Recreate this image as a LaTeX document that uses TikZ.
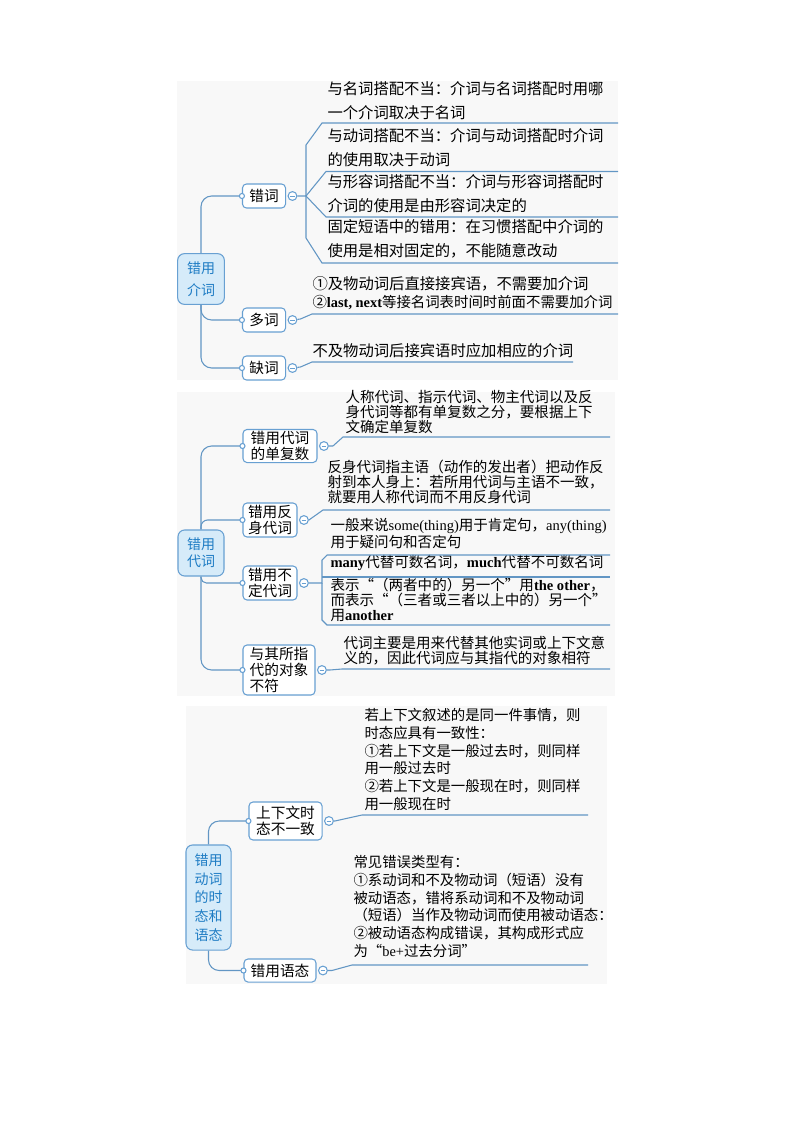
\documentclass[tikz,border=0pt]{standalone}
\usepackage{fontspec}
\setmainfont{Noto Sans CJK SC}
\newfontfamily\westfont{Liberation Serif}
\usetikzlibrary{positioning}
\definecolor{LineBlue}{RGB}{98,150,196}
\definecolor{NodeBlue}{RGB}{104,160,210}
\definecolor{RootFill}{RGB}{214,235,249}
\definecolor{RootText}{RGB}{30,124,196}
\definecolor{PanelGray}{RGB}{248,248,248}
\newcommand{\LeafBig}{\fontsize{11.5}{18}\selectfont}
\newcommand{\LeafTwo}{\fontsize{11.5}{13.5}\selectfont}
\newcommand{\LeafSmall}{\fontsize{10.9}{11.2}\selectfont}
\newcommand{\LeafMid}{\fontsize{10.8}{13.3}\selectfont}
\newcommand{\SubFont}{\fontsize{11}{12}\selectfont}
\newcommand{\wt}[1]{{\westfont\bfseries #1}}
\newcommand{\fw}[1]{{\addfontfeature{CharacterWidth=Full}#1}}

\begin{document}
\begin{tikzpicture}[
      x=0.75pt, y=-0.75pt,
      line width=0.8pt,
      panel/.style={fill=PanelGray},
      root/.style={
        draw = NodeBlue,
        fill = RootFill,
        text = RootText,
        rounded corners = 5pt,
        inner sep = 0pt,
        align = center,
      },
      sub/.style={
        draw = NodeBlue,
        fill = white,
        rounded corners = 3pt,
        inner sep = 0pt,
        align = left,
        font = \SubFont,
      },
      leaf/.style={anchor=south west, inner sep=0pt, align=left},
      tog/.style={
        circle, draw=NodeBlue, fill=white, inner sep=0pt, minimum size=6.6pt,
        path picture={\draw[NodeBlue, line width=0.6pt]
          ([xshift=-1.7pt]path picture bounding box.center) --
          ([xshift=1.7pt]path picture bounding box.center);},
      },
      dot/.style={circle, draw=NodeBlue, fill=white, inner sep=0pt, minimum size=3.8pt},
      link/.style={draw=LineBlue},
      trunk/.style={draw=LineBlue, rounded corners=8pt},
    ]
    \useasboundingbox (0,0) rectangle (794,1123);
    \fill[panel] (177,81) rectangle (618,380);
    \fill[panel] (177,392) rectangle (615,696);
    \fill[panel] (186,706) rectangle (607,984);

    % 错用介词
    \node[root, font=\fontsize{10.5}{16.5}\selectfont, minimum width=35pt, minimum height=38pt] (r1) at (201,279) {错用\\介词};
    \node[sub, minimum width=32.3pt, minimum height=18pt] (b11) at (264,196) {错词};
    \node[sub, minimum width=32.3pt, minimum height=18pt] (b12) at (264,320) {多词};
    \node[sub, minimum width=32.3pt, minimum height=18pt] (b13) at (264,368) {缺词};
    \draw[trunk] (r1.north) |- (b11.west);
    \draw[trunk] (r1.south) |- (b12.west);
    \draw[trunk] (r1.south) |- (b13.west);
    \node[dot] (d11) at (b11.west) {};
    \node[dot] (d12) at (b12.west) {};
    \node[dot] (d13) at (b13.west) {};
    \node[tog, right=1.1pt of b11] (t11) {};
    \node[tog, right=1.1pt of b12] (t12) {};
    \node[tog, right=1.1pt of b13] (t13) {};

    \node[leaf, font=\LeafBig] (l11) at (327,120) {与名词搭配不当：介词与名词搭配时用哪\\一个介词取决于名词};
    \node[leaf, font=\LeafBig] (l12) at (327,167) {与动词搭配不当：介词与动词搭配时介词\\的使用取决于动词};
    \node[leaf, font=\LeafBig] (l13) at (327,213) {与形容词搭配不当：介词与形容词搭配时\\介词的使用是由形容词决定的};
    \node[leaf, font=\LeafBig] (l14) at (327,259) {固定短语中的错用：在习惯搭配中介词的\\使用是相对固定的，不能随意改动};
    \node[leaf, font=\LeafTwo] (l15) at (312,310) {①及物动词后直接接宾语，不需要加介词\\{\fontsize{10.8}{13.5}\selectfont ②\wt{last, next}等接名词表时间时前面不需要加介词}};
    \node[leaf, font=\LeafBig] (l16) at (312,358.5) {不及物动词后接宾语时应加相应的介词};

    \coordinate (j11) at (306,196);
    \coordinate (u11) at (322,123);   \coordinate (e11) at (618,123);
    \coordinate (u12) at (326,171.5); \coordinate (e12) at (618,171.5);
    \coordinate (u13) at (326,217);   \coordinate (e13) at (618,217);
    \coordinate (u14) at (322,263);   \coordinate (e14) at (618,263);
    \draw[link] (t11) -- (j11) -- ++(0,-51) -- (u11) -- (e11);
    \draw[link] (j11) -- (u12) -- (e12);
    \draw[link] (j11) -- (u13) -- (e13);
    \draw[link] (j11) -- ++(0,42) -- (u14) -- (e14);
    \coordinate (u15) at (312,314); \coordinate (e15) at (618,314);
    \draw[link] (t12) -- ++(8,-1) -- (u15) -- (e15);
    \coordinate (u16) at (312,362); \coordinate (e16) at (573,362);
    \draw[link] (t13) -- ++(8,-1) -- (u16) -- (e16);

    % 错用代词
    \node[root, font=\fontsize{10.5}{12.5}\selectfont, minimum width=34.5pt, minimum height=34.5pt] (r2) at (201,553) {错用\\代词};
    \node[sub, minimum width=55.5pt, minimum height=24.8pt] (b21) at (280,446) {错用代词\\的单复数};
    \node[sub, minimum width=40.5pt, minimum height=25.5pt] (b22) at (270,520) {错用反\\身代词};
    \node[sub, minimum width=40.5pt, minimum height=25.5pt] (b23) at (270,583) {错用不\\定代词};
    \node[sub, minimum width=54pt, minimum height=37.5pt] (b24) at (279,670) {与其所指\\代的对象\\不符};
    \draw[trunk] (r2.north) |- (b21.west);
    \draw[trunk, rounded corners=5pt] (r2.north) |- (b22.west);
    \draw[trunk, rounded corners=4pt] (r2.south) |- (b23.west);
    \draw[trunk] (r2.south) |- (b24.west);
    \node[dot] (d21) at (b21.west) {};
    \node[dot] (d22) at (b22.west) {};
    \node[dot] (d23) at (b23.west) {};
    \node[dot] (d24) at (b24.west) {};
    \node[tog, right=1.1pt of b21] (t21) {};
    \node[tog, right=1.1pt of b22] (t22) {};
    \node[tog, right=1.1pt of b23] (t23) {};
    \node[tog, right=1.1pt of b24] (t24) {};

    \node[leaf, font=\LeafSmall] (l21) at (345,434.5) {人称代词、指示代词、物主代词以及反\\身代词等都有单复数之分，要根据上下\\文确定单复数};
    \node[leaf, font=\LeafSmall] (l22) at (327,504) {反身代词指主语（动作的发出者）把动作反\\射到本人身上：若所用代词与主语不一致，\\就要用人称代词而不用反身代词};
    \node[leaf, font=\LeafSmall] (l23) at (330,549) {一般来说{\westfont some(thing)}用于肯定句，{\westfont any(thing)}\\用于疑问句和否定句};
    \node[leaf, font=\LeafSmall] (l24) at (330,571) {\wt{many}代替可数名词，\wt{much}代替不可数名词};
    \node[leaf, font=\LeafSmall] (l25) at (330,622) {表示\fw{“}（两者中的）另一个\fw{”}用\wt{the other}，\\而表示\fw{“}（三者或三者以上中的）另一个\fw{”}\\用\wt{another}};
    \node[leaf, font=\LeafSmall] (l26) at (343,666) {代词主要是用来代替其他实词或上下文意\\义的，因此代词应与其指代的对象相符};

    \coordinate (u21) at (343,437); \coordinate (e21) at (610,437);
    \draw[link] (t21) -- ++(9,0) -- (u21) -- (e21);
    \coordinate (u22) at (323,510); \coordinate (e22) at (610,510);
    \draw[link] (t22) -- ++(5,0) -- (u22) -- (e22);
    \coordinate (j23) at (322,583);
    \coordinate (u23) at (327,555); \coordinate (e23) at (610,555);
    \coordinate (u24) at (322,577); \coordinate (e24) at (610,577);
    \coordinate (u25) at (327,625); \coordinate (e25) at (610,625);
    \draw[link] (t23) -- (j23) -- ++(0,-23) -- (u23) -- (e23);
    \draw[link] (u24) -- (e24);
    \draw[link] (j23) -- ++(0,37) -- (u25) -- (e25);
    \coordinate (u26) at (342,669); \coordinate (e26) at (610,669);
    \draw[link] (t24) -- ++(8,0) -- (u26) -- (e26);

    % 错用动词的时态和语态
    \node[root, font=\fontsize{10.5}{14}\selectfont, minimum width=33.8pt, minimum height=78.8pt] (r3) at (208.5,897.5) {错用\\动词\\的时\\态和\\语态};
    \node[sub, minimum width=54.8pt, minimum height=28.5pt] (b31) at (285.5,821) {上下文时\\态不一致};
    \node[sub, minimum width=54pt, minimum height=17.3pt] (b32) at (280,970.5) {错用语态};
    \draw[trunk] (r3.north) |- (b31.west);
    \draw[trunk] (r3.south) |- (b32.west);
    \node[dot] (d31) at (b31.west) {};
    \node[dot] (d32) at (b32.west) {};
    \node[tog, right=1.1pt of b31] (t31) {};
    \node[tog, right=1.1pt of b32] (t32) {};

    \node[leaf, font=\LeafMid] (l31) at (364,811) {若上下文叙述的是同一件事情，则\\时态应具有一致性：\\①若上下文是一般过去时，则同样\\用一般过去时\\②若上下文是一般现在时，则同样\\用一般现在时};
    \node[leaf, font=\LeafMid] (l32) at (353,958) {常见错误类型有：\\①系动词和不及物动词（短语）没有\\被动语态，错将系动词和不及物动词\\（短语）当作及物动词而使用被动语态：\\②被动语态构成错误，其构成形式应\\为\fw{“}{\westfont be+}过去分词\fw{”}};

    \coordinate (u31) at (362,815); \coordinate (e31) at (588,815);
    \draw[link] (t31) -- ++(6,0) -- (u31) -- (e31);
    \coordinate (u32) at (352,965); \coordinate (e32) at (588,965);
    \draw[link] (t32) -- ++(9,0) -- (u32) -- (e32);
  \end{tikzpicture}
\end{document}
